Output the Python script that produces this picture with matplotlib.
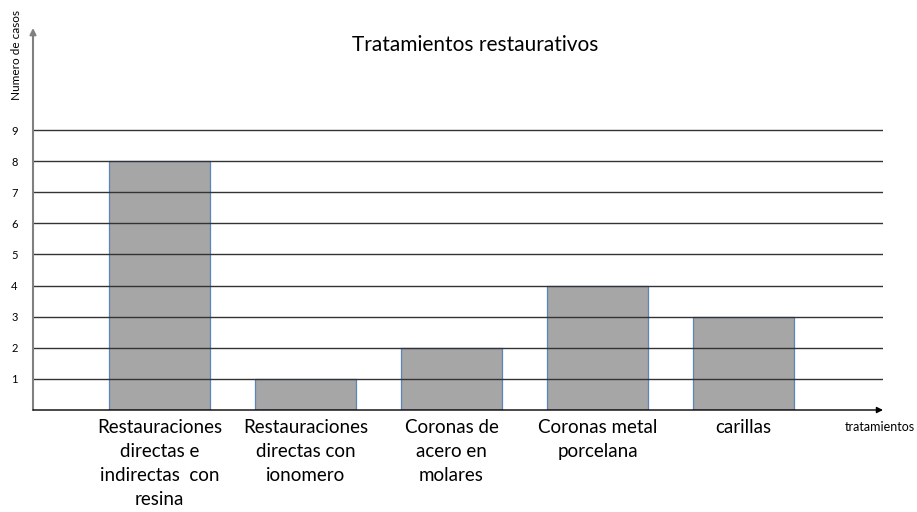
import matplotlib
matplotlib.use("Agg")
import matplotlib.pyplot as plt

categories = ["Restauraciones\ndirectas e\nindirectas  con\nresina",
              "Restauraciones\ndirectas con\nionomero",
              "Coronas de\nacero en\nmolares",
              "Coronas metal\nporcelana",
              "carillas"]
values = [8, 1, 2, 4, 3]
yticks = [1, 2, 3, 4, 5, 6, 7, 8, 9]

plt.rcParams['font.family'] = ['Lato', 'DejaVu Sans']

fig = plt.figure(figsize=(9.17, 5.12), dpi=100)
ax = fig.add_axes([33/917, 1-410/512, (883-33)/917, (410-28)/512])
xmin, xmax = -0.866, 4.955
ymax = 12.28
ax.set_xlim(xmin, xmax)
ax.set_ylim(0, ymax)
for s in ax.spines.values():
    s.set_visible(False)

x = list(range(len(categories)))
ax.bar(x, values, width=0.69, color="#A6A6A6", edgecolor="#5B84B8", linewidth=0.9, zorder=2)
ax.hlines(yticks, xmin, xmax, colors="#333333", linewidth=1.0, zorder=3)

ax.set_yticks(yticks)
ax.set_yticklabels([str(t) for t in yticks], fontsize=8)
ax.tick_params(axis='y', length=0, pad=11)
ax.set_xticks([])

# axes arrows
ax.annotate("", xy=(xmin, ymax), xytext=(xmin, 0),
            arrowprops=dict(arrowstyle="-|>", color="#808080", lw=1.5,
                            mutation_scale=9, shrinkA=0, shrinkB=0), zorder=4,
            annotation_clip=False)
ax.annotate("", xy=(xmax, 0), xytext=(xmin, 0),
            arrowprops=dict(arrowstyle="-|>", color="black", lw=1.0,
                            mutation_scale=9, shrinkA=0, shrinkB=0), zorder=4,
            annotation_clip=False)

for xi, lab in zip(x, categories):
    ax.text(xi, -0.3, lab, ha='center', va='top', fontsize=13.5,
            linespacing=1.5, color="black")

fig.text(475/917, 1-45/512, "Tratamientos restaurativos", ha='center', va='center', fontsize=15)
fig.text(17/917, 1-10/512, "Numero de casos", rotation=90, ha='center', va='top', fontsize=8.5)
fig.text(845/917, 1-427/512, "tratamientos", ha='left', va='center', fontsize=9)

fig.savefig("out.png", dpi=100)
